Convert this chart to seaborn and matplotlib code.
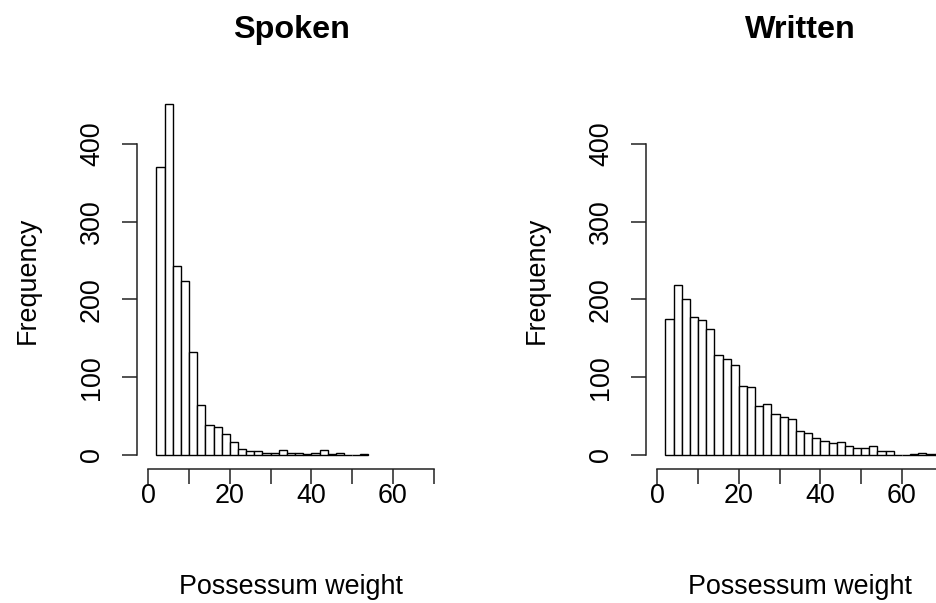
import numpy as np
import pandas as pd
import matplotlib
matplotlib.use('Agg')
import matplotlib.pyplot as plt
import seaborn as sns

# histogram counts, bins of width 2 starting at 2
bin_width = 2
bin_start = 2
spoken_counts = [370, 451, 243, 224, 132, 64, 38, 36, 27, 17, 8, 5, 5,
                 3, 3, 6, 3, 3, 1, 3, 6, 1, 3, 0, 0, 1]
written_counts = [175, 218, 201, 178, 173, 162, 129, 124, 116, 89, 87, 63,
                  66, 53, 49, 46, 31, 28, 22, 18, 15, 17, 12, 9, 9, 11, 5, 5,
                  0, 0, 1, 2, 1, 1, 2, 1]
panel_titles = ['Spoken', 'Written']
x_ticks = [0, 10, 20, 30, 40, 50, 60, 70]
x_ticklabels = ['0', '', '20', '', '40', '', '60', '']
y_ticks = [0, 100, 200, 300, 400]


def counts_frame(counts):
    mids = bin_start + bin_width * np.arange(len(counts)) + bin_width / 2
    return pd.DataFrame({'weight': mids, 'n': counts})


sns.set_theme(style='ticks')
plt.rcParams['font.family'] = ['Liberation Sans', 'DejaVu Sans']
plt.rcParams['text.color'] = 'black'
plt.rcParams['axes.labelcolor'] = 'black'

base = 19.4
fig = plt.figure(figsize=(9.37, 6.03), dpi=100)
lefts = [136.9 / 937, 645.9 / 937]

for left, title, counts in zip(lefts, panel_titles, [spoken_counts, written_counts]):
    ax = fig.add_axes([left, 134 / 603, 308.2 / 937, 378 / 603])
    df = counts_frame(counts)
    n_bins = len(counts)
    sns.histplot(data=df, x='weight', weights='n', binwidth=bin_width,
                 binrange=(bin_start, bin_start + bin_width * n_bins),
                 color='white', edgecolor='black', linewidth=1.0,
                 alpha=1, ax=ax)
    ax.set_xlim(-2.8, 72.8)
    ax.set_ylim(-18, 468)

    for side in ['top', 'right']:
        ax.spines[side].set_visible(False)
    for side in ['left', 'bottom']:
        ax.spines[side].set_linewidth(1.1)
        ax.spines[side].set_color('#222222')
    ax.spines['bottom'].set_bounds(0, 70)
    ax.spines['left'].set_bounds(0, 400)

    ax.set_xticks(x_ticks)
    ax.set_xticklabels(x_ticklabels)
    ax.set_yticks(y_ticks)
    ax.set_yticklabels([str(t) for t in y_ticks], rotation=90, va='center')
    ax.tick_params(axis='both', length=11, width=1.1, color='#222222',
                   labelsize=base, labelcolor='black')
    ax.tick_params(axis='x', pad=-1)
    ax.tick_params(axis='y', pad=12)

    ax.set_xlabel('Possessum weight', fontsize=base, color='black')
    ax.xaxis.set_label_coords(0.5, -0.277)
    ax.set_ylabel('Frequency', fontsize=base, color='black')
    ax.yaxis.set_label_coords(-0.311, 0.5)
    ax.set_title(title, fontsize=base * 1.2, fontweight='bold', pad=38,
                 color='black')
    ax.grid(False)

fig.savefig('out.png', dpi=100)
